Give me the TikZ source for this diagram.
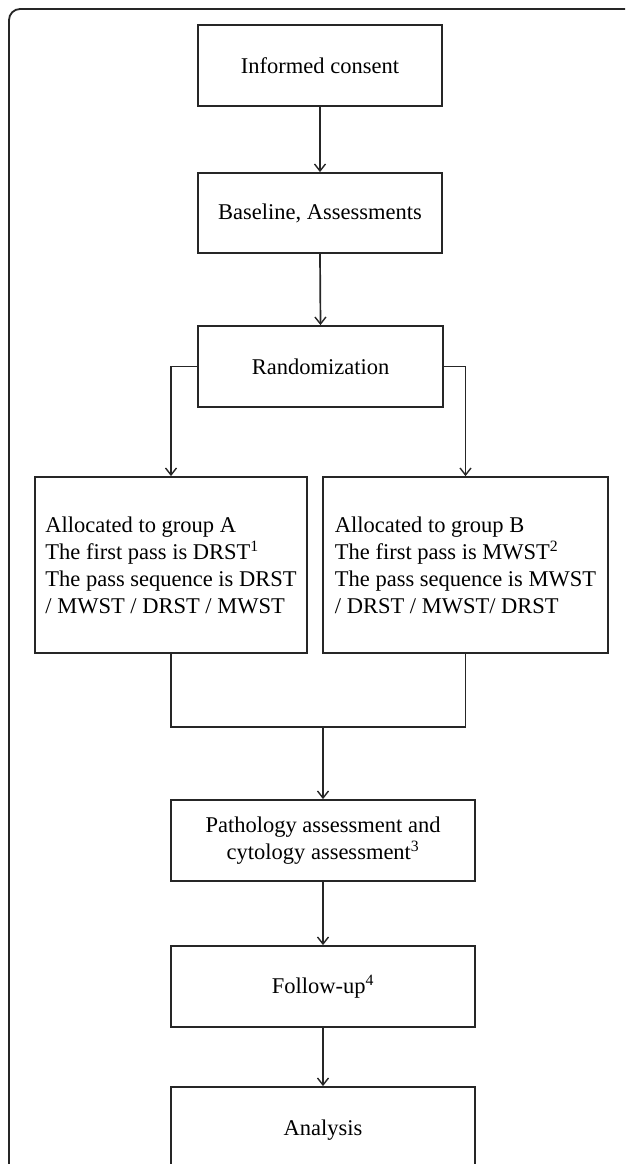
\documentclass[tikz,border=0pt]{standalone}
\usepackage{fontspec}
\setmainfont{Liberation Serif}
\usetikzlibrary{arrows.meta}
\begin{document}
\begin{tikzpicture}[x=1pt,y=-1pt,
  box/.style={draw=black!85, line width=1.8pt, inner sep=0pt,
    font=\fontsize{22.5}{27}\selectfont, align=center},
  grp/.style={box, align=left, minimum height=176pt},
  conn/.style={draw=black!85, line width=1.7pt},
  arr/.style={conn, -{Straight Barb[length=7pt,width=11pt,line width=1.4pt]}},
  frame/.style={draw=black!85, line width=1.8pt, rounded corners=11pt}
]
\useasboundingbox (0,0) rectangle (625,1164);
\clip (0,0) rectangle (625,1164);
\draw[frame] (9,9) rectangle (720,1260);

\node[box, minimum width=244pt, minimum height=81pt] (ic) at (320,65.5) {Informed consent};
\node[box, minimum width=244pt, minimum height=80pt] (bl) at (320,213) {Baseline, Assessments};
\node[box, minimum width=245pt, minimum height=81pt] (rd) at (320.5,366.5) {Randomization};
\node[grp, minimum width=272pt] (ga) at (171,565) {Allocated to group A\\The first pass is DRST\textsuperscript{1}\\The pass sequence is DRST\\/ MWST / DRST / MWST};
\node[grp, minimum width=285pt] (gb) at (465.5,565) {Allocated to group B\\The first pass is MWST\textsuperscript{2}\\The pass sequence is MWST\\/ DRST / MWST/ DRST};
\node[box, minimum width=304pt, minimum height=81pt] (pa) at (323,840.5) {Pathology assessment and\\cytology assessment\textsuperscript{3}};
\node[box, minimum width=304pt, minimum height=81pt] (fu) at (323,986.5) {Follow-up\textsuperscript{4}};
\node[box, minimum width=304pt, minimum height=86pt] (an) at (323,1130) {Analysis};

\coordinate (mj) at (323,727);

\draw[arr] (ic.south) -- (bl.north);
\draw[arr] (bl.south) -- (rd.north);
\draw[arr] (rd.west) -| (ga.north);
\draw[arr] (rd.east) -| (gb.north);
\draw[conn] (ga.south) |- (mj) -| (gb.south);
\draw[arr] (mj) -- (pa.north);
\draw[arr] (pa.south) -- (fu.north);
\draw[arr] (fu.south) -- (an.north);
\end{tikzpicture}
\end{document}
